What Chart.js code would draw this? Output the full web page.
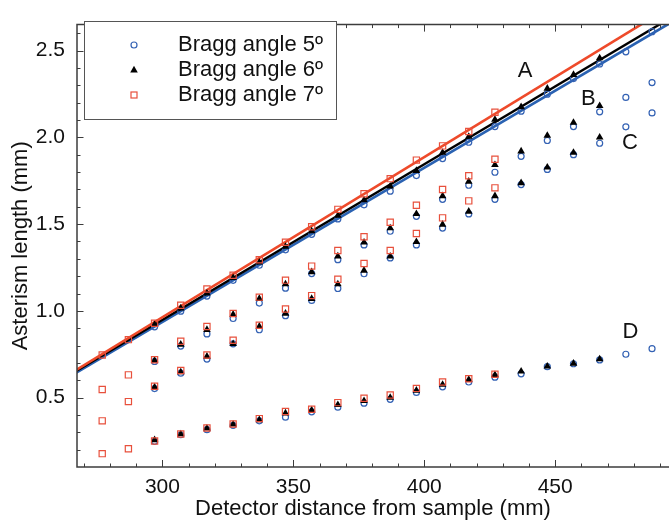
<!DOCTYPE html>
<html>
<head>
<meta charset="utf-8">
<title>Asterism length vs detector distance</title>
<script src="https://cdn.jsdelivr.net/npm/chart.js@4.4.1/dist/chart.umd.min.js"></script>
<style>
  html, body { margin: 0; padding: 0; background: #fff; }
  #wrap { width: 669px; height: 520px; }
</style>
</head>
<body>
<div id="wrap"><canvas id="chart" width="669" height="520"></canvas></div>
<script>
/* Asterism length vs detector distance – three Bragg angles */
'use strict';

var FONT = '"Liberation Sans", Arial, Helvetica, sans-serif';

// detector distances (mm) shared by every branch
var distances = [277, 287, 297, 307, 317, 327, 337, 347, 357, 367, 377, 387, 397, 407, 417, 427, 437, 447, 457, 467, 477, 487];

// Bragg angle 5º (blue circles), branches A..D
var a5 = [null, null, 0.908, 0.998, 1.085, 1.176, 1.263, 1.352, 1.441, 1.530, 1.611, 1.690, 1.780, 1.878, 1.972, 2.062, 2.151, 2.249, 2.339, 2.423, 2.493, 2.609];
var b5 = [null, null, 0.708, 0.797, 0.867, 0.956, 1.045, 1.131, 1.215, 1.295, 1.380, 1.459, 1.545, 1.643, 1.724, 1.799, 1.891, 1.982, 2.062, 2.147, 2.230, 2.316];
var c5 = [null, null, 0.552, 0.641, 0.722, 0.810, 0.891, 0.972, 1.060, 1.129, 1.214, 1.305, 1.380, 1.477, 1.559, 1.643, 1.728, 1.815, 1.900, 1.966, 2.061, 2.141];
var d5 = [null, null, 0.248, 0.286, 0.315, 0.340, 0.366, 0.387, 0.418, 0.445, 0.468, 0.490, 0.530, 0.562, 0.590, 0.618, 0.637, 0.678, 0.695, 0.717, 0.750, 0.782];

// Bragg angle 6º (black triangles)
var a6 = [null, null, 0.921, 1.015, 1.101, 1.190, 1.280, 1.370, 1.460, 1.549, 1.638, 1.718, 1.808, 1.912, 2.004, 2.102, 2.175, 2.282, 2.361, 2.457, null, null];
var b6 = [null, null, 0.714, 0.806, 0.891, 0.979, 1.070, 1.154, 1.224, 1.315, 1.395, 1.477, 1.559, 1.662, 1.746, 1.842, 1.920, 2.010, 2.085, 2.182, null, null];
var c6 = [null, null, 0.560, 0.647, 0.737, 0.810, 0.910, 0.985, 1.070, 1.154, 1.233, 1.314, 1.398, 1.498, 1.573, 1.662, 1.737, 1.827, 1.912, 2.000, null, null];
var d6 = [null, null, 0.256, 0.290, 0.323, 0.346, 0.371, 0.410, 0.427, 0.458, 0.481, 0.500, 0.541, 0.575, 0.603, 0.631, 0.651, 0.680, 0.697, 0.722, null, null];

// Bragg angle 7º (red squares)
var a7 = [0.746, 0.834, 0.929, 1.032, 1.126, 1.205, 1.295, 1.395, 1.485, 1.585, 1.675, 1.762, 1.869, 1.951, 2.034, 2.145, null, null, null, null, null, null];
var b7 = [0.547, 0.631, 0.718, 0.825, 0.910, 0.985, 1.079, 1.177, 1.258, 1.348, 1.427, 1.511, 1.609, 1.700, 1.779, 1.874, null, null, null, null, null, null];
var c7 = [0.366, 0.477, 0.565, 0.656, 0.746, 0.831, 0.917, 1.011, 1.088, 1.182, 1.273, 1.348, 1.446, 1.536, 1.634, 1.709, null, null, null, null, null, null];
var d7 = [0.177, 0.205, 0.250, 0.290, 0.325, 0.348, 0.379, 0.420, 0.433, 0.471, 0.496, 0.515, 0.553, 0.590, 0.609, 0.635, null, null, null, null, null, null];

// straight fits through branch A (end values)
var fitX = [265, 495];
var fit5 = [0.625, 2.669];
var fit6 = [0.634, 2.697];
var fit7 = [0.640, 2.763];

// branch labels
var branchNames = ['A', 'B', 'C', 'D'];
var branchX = [438.5, 462.7, 478.6, 478.8];
var branchY = [2.382, 2.221, 1.966, 0.880];

// axis ticks
var xMajor = [300, 350, 400, 450];
var yMajor = [0.5, 1.0, 1.5, 2.0, 2.5];

var legendNames = ['Bragg angle 5º', 'Bragg angle 6º', 'Bragg angle 7º'];

var BLUE = '#3462b4', RED = '#e8503c', LINE_RED = '#ee4a2a', LINE_BLUE = '#2a62b2', AXIS = '#3c3c3c';

function pts(xs, ys) {
  var out = [];
  for (var i = 0; i < xs.length; i++) {
    if (ys[i] !== null) out.push({ x: xs[i], y: ys[i] });
  }
  return out;
}

function branches(a, b, c, d) {
  return pts(distances, a).concat(pts(distances, b), pts(distances, c), pts(distances, d));
}

// frame with inward ticks on left, bottom and top
var framePlugin = {
  id: 'frame',
  afterDatasetsDraw: function (chart) {
    var ctx = chart.ctx, a = chart.chartArea, xs = chart.scales.x, ys = chart.scales.y;
    var i, v, px, len;
    ctx.save();
    ctx.strokeStyle = AXIS;
    ctx.lineWidth = 1.5;
    ctx.beginPath();
    ctx.moveTo(a.right + 10, a.top); ctx.lineTo(a.left, a.top);
    ctx.lineTo(a.left, a.bottom); ctx.lineTo(a.right + 10, a.bottom);
    ctx.stroke();

    ctx.lineWidth = 1;
    ctx.beginPath();
    for (i = 27; i <= 49; i++) {
      v = i * 10;
      px = Math.round(xs.getPixelForValue(v)) + 0.5;
      len = (i % 5 === 0) ? 7 : 3.5;
      ctx.moveTo(px, a.bottom); ctx.lineTo(px, a.bottom - len);
      ctx.moveTo(px, a.top); ctx.lineTo(px, a.top + len);
    }
    for (i = 2; i <= 26; i++) {
      v = i / 10;
      px = Math.round(ys.getPixelForValue(v)) + 0.5;
      len = (i % 5 === 0) ? 6.5 : 3.5;
      ctx.moveTo(a.left, px); ctx.lineTo(a.left + len, px);
    }
    ctx.stroke();
    ctx.restore();
  }
};

// A, B, C, D branch names
var branchPlugin = {
  id: 'branchNames',
  afterDatasetsDraw: function (chart) {
    var ctx = chart.ctx, xs = chart.scales.x, ys = chart.scales.y;
    ctx.save();
    ctx.font = '22px ' + FONT;
    ctx.fillStyle = '#111';
    ctx.textAlign = 'center';
    ctx.textBaseline = 'middle';
    branchNames.forEach(function (name, i) {
      ctx.fillText(name, xs.getPixelForValue(branchX[i]), ys.getPixelForValue(branchY[i]));
    });
    ctx.restore();
  }
};

// boxed legend in the top-left corner
var legendPlugin = {
  id: 'boxLegend',
  afterDraw: function (chart) {
    var ctx = chart.ctx;
    var bx = 84, by = 21, bw = 252, bh = 98;
    var mx = 134, tx = 178, rows = [45, 70, 95];
    ctx.save();
    ctx.fillStyle = '#fff';
    ctx.fillRect(bx, by, bw, bh);
    ctx.strokeStyle = '#555';
    ctx.lineWidth = 1;
    ctx.strokeRect(bx + 0.5, by + 0.5, bw, bh);

    // circle
    ctx.strokeStyle = BLUE; ctx.lineWidth = 1.2;
    ctx.beginPath(); ctx.arc(mx, rows[0], 3, 0, Math.PI * 2); ctx.stroke();
    // triangle
    ctx.fillStyle = '#000';
    ctx.beginPath();
    ctx.moveTo(mx, rows[1] - 4.2); ctx.lineTo(mx + 3.8, rows[1] + 2.4); ctx.lineTo(mx - 3.8, rows[1] + 2.4);
    ctx.closePath(); ctx.fill();
    // square
    ctx.strokeStyle = RED; ctx.lineWidth = 1.2;
    ctx.strokeRect(mx - 3, rows[2] - 3, 6, 6);

    ctx.fillStyle = '#111';
    ctx.font = '22px ' + FONT;
    ctx.textAlign = 'left';
    ctx.textBaseline = 'middle';
    legendNames.forEach(function (t, i) { ctx.fillText(t, tx, rows[i]); });
    ctx.restore();
  }
};

var markerBase = { showLine: false, pointHoverRadius: 0 };

new Chart(document.getElementById('chart'), {
  type: 'scatter',
  data: {
    datasets: [
      Object.assign({
        label: legendNames[2], data: branches(a7, b7, c7, d7),
        pointStyle: 'rect', pointRadius: 4.4, borderColor: RED, backgroundColor: 'rgba(0,0,0,0)', borderWidth: 1.2
      }, markerBase),
      Object.assign({
        label: legendNames[1], data: branches(a6, b6, c6, d6),
        pointStyle: 'triangle', pointRadius: 4.4, borderColor: '#000', backgroundColor: '#000', borderWidth: 0
      }, markerBase),
      Object.assign({
        label: legendNames[0], data: branches(a5, b5, c5, d5),
        pointStyle: 'circle', pointRadius: 3, borderColor: BLUE, backgroundColor: 'rgba(0,0,0,0)', borderWidth: 1.2
      }, markerBase),
      { label: 'fit 7', data: pts(fitX, fit7), showLine: true, pointRadius: 0, borderColor: LINE_RED, borderWidth: 2.6 },
      { label: 'fit 6', data: pts(fitX, fit6), showLine: true, pointRadius: 0, borderColor: '#000', borderWidth: 2.4 },
      { label: 'fit 5', data: pts(fitX, fit5), showLine: true, pointRadius: 0, borderColor: LINE_BLUE, borderWidth: 2.6 }
    ]
  },
  options: {
    responsive: false,
    animation: false,
    events: [],
    layout: { autoPadding: false, padding: { top: 14, right: -6, bottom: 0, left: 0 } },
    plugins: { legend: { display: false }, tooltip: { enabled: false } },
    scales: {
      x: {
        type: 'linear',
        min: 267.37,
        max: 493.48,
        afterBuildTicks: function (s) { s.ticks = xMajor.map(function (v) { return { value: v }; }); },
        afterFit: function (s) { s.height = 53; },
        grid: { display: false, drawTicks: false },
        border: { display: false },
        ticks: { color: '#111', font: { family: FONT, size: 21 }, padding: 8, maxRotation: 0, autoSkip: false,
                 callback: function (v) { return String(v); } },
        title: { display: true, text: 'Detector distance from sample (mm)', color: '#111',
                 font: { family: FONT, size: 22, lineHeight: 0.8 }, padding: { top: 0, bottom: 2 } }
      },
      y: {
        type: 'linear',
        min: 0.1,
        max: 2.65,
        afterBuildTicks: function (s) { s.ticks = yMajor.map(function (v) { return { value: v }; }); },
        afterFit: function (s) { s.width = 77; },
        grid: { display: false, drawTicks: false },
        border: { display: false },
        ticks: { color: '#111', font: { family: FONT, size: 21 }, padding: 12, autoSkip: false,
                 callback: function (v) { return v.toFixed(1); } },
        title: { display: true, text: 'Asterism length (mm)', color: '#111',
                 font: { family: FONT, size: 22, lineHeight: 0.8 }, padding: { top: 12, bottom: 0 } }
      }
    }
  },
  plugins: [framePlugin, branchPlugin, legendPlugin]
});
</script>
</body>
</html>
